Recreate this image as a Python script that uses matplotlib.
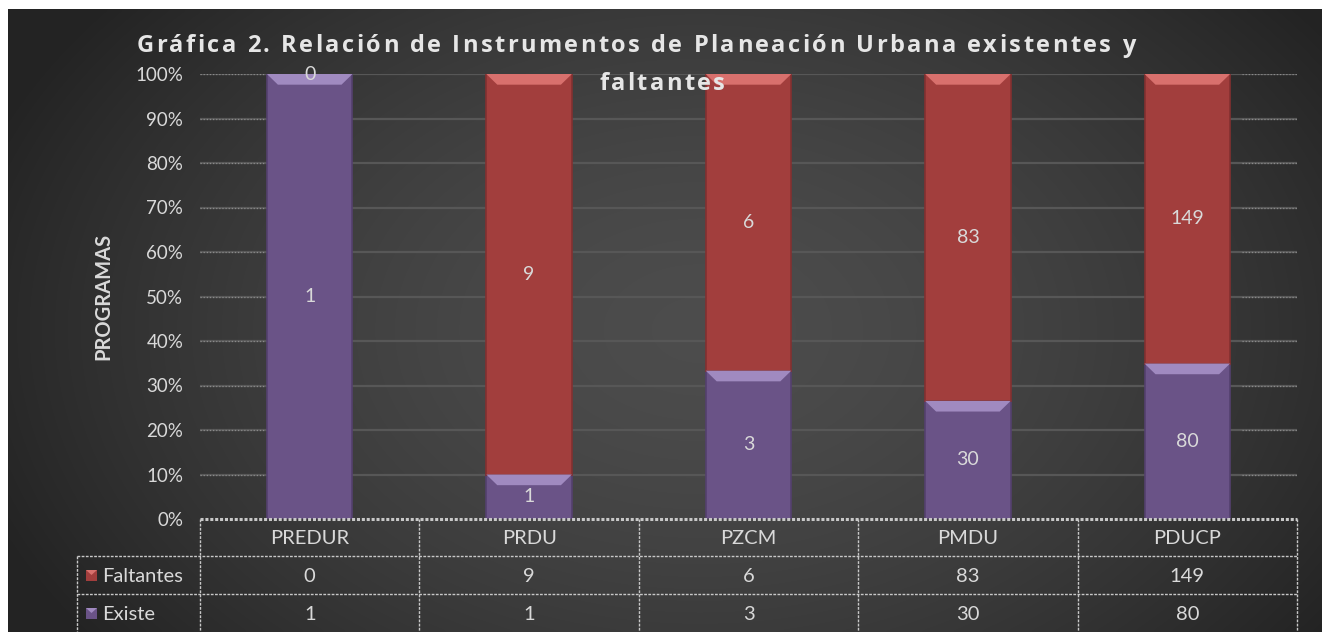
import numpy as np
import matplotlib
matplotlib.use("Agg")
import matplotlib.pyplot as plt
from matplotlib.patches import Polygon, Rectangle
from matplotlib.transforms import blended_transform_factory
from matplotlib.ticker import PercentFormatter

# ---------------- data ----------------
categories = ["PREDUR", "PRDU", "PZCM", "PMDU", "PDUCP"]
existe = [1, 1, 3, 30, 80]
faltantes = [0, 9, 6, 83, 149]
series_names = ["Faltantes", "Existe"]
title_line1 = "Gráfica 2. Relación de Instrumentos de Planeación Urbana existentes y"
title_line2 = "faltantes"
y_label = "PROGRAMAS"

W, H = 1322, 632
fig = plt.figure(figsize=(W / 100, H / 100), dpi=100, facecolor="white")
plt.rcParams["font.family"] = ["Lato", "DejaVu Sans"]

TXT = "#d9d9d9"
PURPLE = "#6a5387"
PURPLE_TOP = "#a08ac0"
PURPLE_EDGE = "#54406e"
RED = "#a23e3d"
RED_TOP = "#d8706d"
RED_EDGE = "#833030"

# ---------------- background gradient ----------------
bg = fig.add_axes([0, 0, 1, 1], zorder=-10)
bg.set_xlim(0, W)
bg.set_ylim(H, 0)
bg.axis("off")
xx, yy = np.meshgrid(np.linspace(8, W, 400), np.linspace(9, H, 200))
r = np.sqrt(((xx - 700) / 760) ** 2 + ((yy - 330) / 520) ** 2)
v = 0.30 - 0.16 * np.clip(r, 0, 1) ** 1.6
img = np.dstack([v, v, v])
bg.imshow(img, extent=[8, W, H, 9], aspect="auto", interpolation="bicubic")

# ---------------- main axes ----------------
L, R, T, B = 200, 1297, 74, 519
ax = fig.add_axes([L / W, 1 - B / H, (R - L) / W, (B - T) / H])
ax.set_facecolor("none")
for s in ax.spines.values():
    s.set_visible(False)

tot = [e + f for e, f in zip(existe, faltantes)]
p_ex = [100 * e / t for e, t in zip(existe, tot)]
p_fa = [100 * f / t for f, t in zip(faltantes, tot)]
x = np.arange(len(categories))
bw = 0.39

ax.set_xlim(-0.5, len(categories) - 0.5)
ax.set_ylim(0, 100)
ax.set_yticks(np.arange(0, 101, 10))
ax.yaxis.set_major_formatter(PercentFormatter(decimals=0))
ax.tick_params(axis="y", length=0, labelsize=13.5, labelcolor=TXT, pad=12)
ax.set_xticks([])

# gridlines
for gy in np.arange(10, 101, 10):
    ax.axhline(gy, color="#575757", lw=1.6, zorder=0)
    ax.plot([-0.5, -0.2], [gy, gy], color="#8a8a8a", lw=0.9, ls=(0, (1, 1.5)), zorder=0.5)
    ax.plot([4.25, 4.5], [gy, gy], color="#8a8a8a", lw=0.9, ls=(0, (1, 1.5)), zorder=0.5)

ax.set_ylabel(y_label, color=TXT, fontsize=14.5, fontweight="bold", labelpad=16)

bev_h = 2.4
inset = 0.05


def draw_seg(xc, bottom, height, face, top, edge):
    if height <= 0:
        return
    ax.bar(xc, height, bw, bottom=bottom, color=face, edgecolor=edge, lw=1.2, zorder=2)
    t = bottom + height
    h = min(bev_h, height)
    poly = Polygon([(xc - bw / 2, t), (xc + bw / 2, t),
                    (xc + bw / 2 - inset, t - h), (xc - bw / 2 + inset, t - h)],
                   closed=True, facecolor=top, edgecolor="none", zorder=3)
    ax.add_patch(poly)


for i in range(len(categories)):
    draw_seg(x[i], 0, p_ex[i], PURPLE, PURPLE_TOP, PURPLE_EDGE)
    draw_seg(x[i], p_ex[i], p_fa[i], RED, RED_TOP, RED_EDGE)
    ax.text(x[i], p_ex[i] / 2, str(existe[i]), ha="center", va="center",
            color=TXT, fontsize=14, zorder=5)
    ax.text(x[i], p_ex[i] + p_fa[i] / 2 if faltantes[i] > 0 else 100,
            str(faltantes[i]), ha="center", va="center", color=TXT, fontsize=14, zorder=5)

# ---------------- data table ----------------
trans = blended_transform_factory(ax.transData, bg.transData)
LINE = "#c8c8c8"
rows_y = [519, 556, 594, 640]
lab_left = 77
TFS = 14.5

ax.plot([-0.5, 4.5], [519, 519], transform=trans, color=LINE, lw=2.2, ls=(0, (1, 0.6)), clip_on=False, zorder=6)
for yv in rows_y[1:3]:
    bg.plot([lab_left, R], [yv, yv], color=LINE, lw=1.0, ls=(0, (2, 1)), clip_on=False)
bg.plot([lab_left, lab_left], [556, 640], color=LINE, lw=1.0, ls=(0, (2, 1)))
for i in range(len(categories) + 1):
    ax.plot([i - 0.5, i - 0.5], [519, 640], transform=trans, color=LINE, lw=1.0,
            ls=(0, (2, 1)), clip_on=False, zorder=6)

for i, c in enumerate(categories):
    ax.text(i, (519 + 556) / 2 + 1, c, transform=trans, ha="center", va="center",
            color=TXT, fontsize=TFS, clip_on=False)
    ax.text(i, (556 + 594) / 2 + 1, str(faltantes[i]), transform=trans, ha="center",
            va="center", color=TXT, fontsize=TFS, clip_on=False)
    ax.text(i, (594 + 632) / 2 + 1, str(existe[i]), transform=trans, ha="center",
            va="center", color=TXT, fontsize=TFS, clip_on=False)

for name, yc, face, top in [(series_names[0], (556 + 594) / 2, RED, RED_TOP),
                            (series_names[1], (594 + 632) / 2, PURPLE, PURPLE_TOP)]:
    bg.add_patch(Rectangle((86, yc - 5), 11, 11, facecolor=face, edgecolor="none"))
    bg.add_patch(Polygon([(86, yc - 5), (97, yc - 5), (91.5, yc)], facecolor=top, edgecolor="none"))
    bg.text(102, yc + 1, name, ha="left", va="center", color=TXT, fontsize=TFS)

# ---------------- title with letter spacing (drawn on top of the bars) ----------------
renderer = fig.canvas.get_renderer()


def spaced_text(s, cx, cy, spacing, **kw):
    widths = []
    for ch in s:
        t = fig.text(0, 0, ch if ch != " " else "i", transform=bg.transData, **kw)
        w = t.get_window_extent(renderer).width
        if ch == " ":
            w *= 0.9
        widths.append(w)
        t.remove()
    total = sum(widths) + spacing * (len(s) - 1)
    xpos = cx - total / 2
    for ch, w in zip(s, widths):
        if ch != " ":
            fig.text(xpos, cy, ch, ha="left", va="center", transform=bg.transData,
                     zorder=20, **kw)
        xpos += w + spacing


tkw = dict(color="#e6e6e6", fontsize=17, fontweight="bold", family=["Open Sans", "DejaVu Sans"])
spaced_text(title_line1, 636, 46, 2.4, **tkw)
spaced_text(title_line2, 662, 84, 2.4, **tkw)

fig.savefig("out.png", dpi=100, facecolor="white")
